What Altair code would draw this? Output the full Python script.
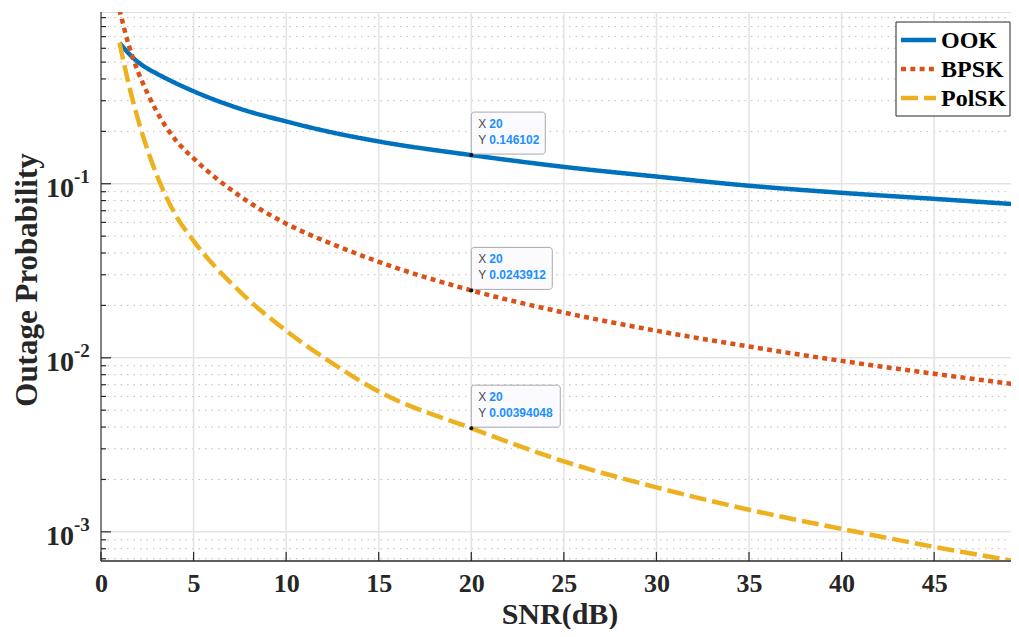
import altair as alt
import pandas as pd

# ---------------- data ----------------
snr = [1, 1.5, 2, 2.5, 3, 4, 5, 7.5, 10, 12.5, 15, 20, 25, 30, 35, 40, 45, 50]
ook = [0.645, 0.56, 0.50, 0.46, 0.43, 0.38, 0.34, 0.27, 0.228, 0.197, 0.175,
       0.146102, 0.125, 0.110, 0.0974, 0.0887, 0.0819, 0.0755]
bpsk = [1.0, 0.625, 0.44, 0.333, 0.261, 0.18, 0.14, 0.085, 0.059, 0.045, 0.0356,
        0.0243912, 0.0182, 0.0143, 0.0116, 0.0096, 0.0081, 0.0069]
polsk = [0.645, 0.372, 0.234, 0.158, 0.113, 0.067, 0.047, 0.024, 0.0143, 0.0093, 0.0064,
         0.00394048, 0.00254, 0.00180, 0.00134, 0.00104, 0.00082, 0.00066]
series_names = ["OOK", "BPSK", "PolSK"]
series_colors = ["#0072BD", "#D95319", "#EDB120"]

tip_x = [20, 20, 20]
tip_y = [0.146102, 0.0243912, 0.00394048]
tip_y_text = ["0.146102", "0.0243912", "0.00394048"]

x_ticks = [0, 5, 10, 15, 20, 25, 30, 35, 40, 45]
decades = [0.1, 0.01, 0.001]
decade_sup = ["-1", "-2", "-3"]
minor_mult = [2, 3, 4, 5, 6, 7, 8, 9]
minor_base = [0.0001, 0.001, 0.01, 0.1]

# ---------------- layout ----------------
W, H = 910, 549
X_DOM = [0, 49.15]
Y_DOM = [6.8e-4, 0.97]
SERIF = "Liberation Serif"
SANS = "Liberation Sans"
DARK = "#262626"
DASHES = [[1, 0], [5, 4.3], [17, 6]]

xscale = alt.Scale(domain=X_DOM, nice=False, zero=False)
yscale = alt.Scale(type="log", domain=Y_DOM, nice=False)
xaxis = alt.Axis(values=x_ticks, domain=False, ticks=False, grid=False, title=None,
                 labelFont=SERIF, labelFontSize=26, labelFontWeight="bold",
                 labelColor=DARK, labelPadding=9, labelFlush=False, labelOverlap=False)

rows = []
for name, vals in zip(series_names, [ook, bpsk, polsk]):
    for s, v in zip(snr, vals):
        rows.append({"snr": s, "p": v, "series": name})
df = pd.DataFrame(rows)

minor_vals = [b * m for b in minor_base for m in minor_mult
              if Y_DOM[0] <= b * m <= Y_DOM[1]]
minor_df = pd.DataFrame({"v": minor_vals})
dec_df = pd.DataFrame({"v": decades, "base": ["10"] * len(decades), "sup": decade_sup})
xt_df = pd.DataFrame({"t": x_ticks})
xg_df = pd.DataFrame({"t": x_ticks[1:]})
tips = pd.DataFrame({"x": tip_x, "y": tip_y, "xs": [str(v) for v in tip_x], "ys": tip_y_text})
one_row = pd.DataFrame({"k": [0]})

X = lambda f: alt.X(f, scale=xscale, axis=xaxis)
Y = lambda f: alt.Y(f, scale=yscale, axis=None)

# grids
minor_grid = alt.Chart(minor_df).mark_rule(color="#bdbdbd", strokeWidth=1, strokeDash=[1.5, 5]).encode(
    y=Y("v:Q"), x=alt.value(0), x2=alt.value(W))
major_ygrid = alt.Chart(dec_df).mark_rule(color="#e3e3e3", strokeWidth=1.5).encode(
    y=Y("v:Q"), x=alt.value(0), x2=alt.value(W))
major_xgrid = alt.Chart(xg_df).mark_rule(color="#e3e3e3", strokeWidth=1.5).encode(
    x=X("t:Q"), y=alt.value(0), y2=alt.value(H))

# curves
lines = alt.Chart(df).mark_line(strokeWidth=4.5, clip=True, interpolate="monotone").encode(
    x=X("snr:Q"),
    y=Y("p:Q"),
    color=alt.Color("series:N", scale=alt.Scale(domain=series_names, range=series_colors), legend=None),
    strokeDash=alt.StrokeDash("series:N", scale=alt.Scale(domain=series_names, range=DASHES), legend=None),
    order=alt.Order("snr:Q"),
)

# axes lines and ticks (inward)
left_axis = alt.Chart(one_row).mark_rule(color="#5e5e5e", strokeWidth=1.5).encode(
    x=alt.value(0), y=alt.value(0), y2=alt.value(H))
bottom_axis = alt.Chart(one_row).mark_rule(color="#5e5e5e", strokeWidth=1.8).encode(
    x=alt.value(0), x2=alt.value(W), y=alt.value(H))
xticks = alt.Chart(xt_df).mark_rule(color=DARK, strokeWidth=1.2).encode(
    x=X("t:Q"), y=alt.value(H - 9), y2=alt.value(H))
ymaj_ticks = alt.Chart(dec_df).mark_rule(color=DARK, strokeWidth=1.2).encode(
    y=Y("v:Q"), x=alt.value(0), x2=alt.value(10))
ymin_ticks = alt.Chart(minor_df).mark_rule(color=DARK, strokeWidth=1.2).encode(
    y=Y("v:Q"), x=alt.value(0), x2=alt.value(5))

# y tick labels 10^k
ylab_base = alt.Chart(dec_df).mark_text(font=SERIF, fontSize=28, fontWeight="bold", color=DARK,
                                        align="right", baseline="alphabetic", dy=13).encode(
    y=Y("v:Q"), x=alt.value(-27), text="base:N")
ylab_sup = alt.Chart(dec_df).mark_text(font=SERIF, fontSize=19, fontWeight="bold", color=DARK,
                                       align="left", baseline="alphabetic", dy=-1).encode(
    y=Y("v:Q"), x=alt.value(-27), text="sup:N")

# titles
title_df = pd.DataFrame({"x": ["SNR(dB)"], "y": ["Outage Probability"]})
xtitle = alt.Chart(title_df).mark_text(font=SERIF, fontSize=30, fontWeight="bold", color=DARK,
                                       align="center", baseline="alphabetic").encode(
    x=alt.value(459), y=alt.value(612), text="x:N")
ytitle = alt.Chart(title_df).mark_text(font=SERIF, fontSize=31, fontWeight="bold", color=DARK,
                                       align="center", baseline="middle", angle=270).encode(
    x=alt.value(-73), y=alt.value(268), text="y:N")

# legend (drawn as annotation)
LX0, LX1, LY0, LY1 = 795, 909, 10, 104
legend_layers = [
    alt.Chart(one_row).mark_rect(fill="#ffffff", stroke=DARK, strokeWidth=1).encode(
        x=alt.value(LX0), x2=alt.value(LX1), y=alt.value(LY0), y2=alt.value(LY1))
]
for i, (name, col, dash) in enumerate(zip(series_names, series_colors, DASHES)):
    ly = 28 + i * 29
    nm = pd.DataFrame({"name": [name]})
    legend_layers.append(
        alt.Chart(nm).mark_rule(color=col, strokeWidth=4.5, strokeDash=dash).encode(
            x=alt.value(LX0 + 5), x2=alt.value(LX0 + 40), y=alt.value(ly)))
    legend_layers.append(
        alt.Chart(nm).mark_text(font=SERIF, fontSize=24, fontWeight="bold", color="#000000",
                                align="left", baseline="middle").encode(
            x=alt.value(LX0 + 45), y=alt.value(ly + 1), text="name:N"))

# data tips
tip_layers = []
for i, w in enumerate([74, 81, 89]):
    one = tips.iloc[[i]]
    tip_layers.append(
        alt.Chart(one).mark_rect(fill="#fafaff", stroke="#a9a9a9", strokeWidth=1, cornerRadius=3,
                                 x2Offset=w, yOffset=-43, y2Offset=-1).encode(
            x=X("x:Q"), x2=alt.X2("x"), y=Y("y:Q"), y2=alt.Y2("y")))
tip_dots = alt.Chart(tips).mark_point(filled=True, size=16, color="#111111", opacity=1).encode(
    x=X("x:Q"), y=Y("y:Q"))
tx_lbl = alt.Chart(tips).mark_text(font=SANS, fontSize=12, color="#4a4a4a", align="left",
                                   baseline="middle", xOffset=7, yOffset=-31).encode(
    x=X("x:Q"), y=Y("y:Q"), text=alt.value("X"))
ty_lbl = alt.Chart(tips).mark_text(font=SANS, fontSize=12, color="#4a4a4a", align="left",
                                   baseline="middle", xOffset=7, yOffset=-15).encode(
    x=X("x:Q"), y=Y("y:Q"), text=alt.value("Y"))
tx_val = alt.Chart(tips).mark_text(font=SANS, fontSize=12, fontWeight="bold", color="#1a90ff",
                                   align="left", baseline="middle", xOffset=18, yOffset=-31).encode(
    x=X("x:Q"), y=Y("y:Q"), text="xs:N")
ty_val = alt.Chart(tips).mark_text(font=SANS, fontSize=12, fontWeight="bold", color="#1a90ff",
                                   align="left", baseline="middle", xOffset=18, yOffset=-15).encode(
    x=X("x:Q"), y=Y("y:Q"), text="ys:N")

chart = alt.layer(
    minor_grid, major_ygrid, major_xgrid, lines,
    left_axis, bottom_axis, xticks, ymaj_ticks, ymin_ticks,
    ylab_base, ylab_sup, xtitle, ytitle,
    *legend_layers,
    *tip_layers, tip_dots, tx_lbl, ty_lbl, tx_val, ty_val,
).properties(
    width=W, height=H,
    autosize=alt.AutoSizeParams(type="none"),
    padding={"left": 93, "top": 4, "right": 0, "bottom": 68},
).configure_view(stroke=None).configure(background="#ffffff")

chart.save("out.html", embed_options={"renderer": "svg", "actions": False})
